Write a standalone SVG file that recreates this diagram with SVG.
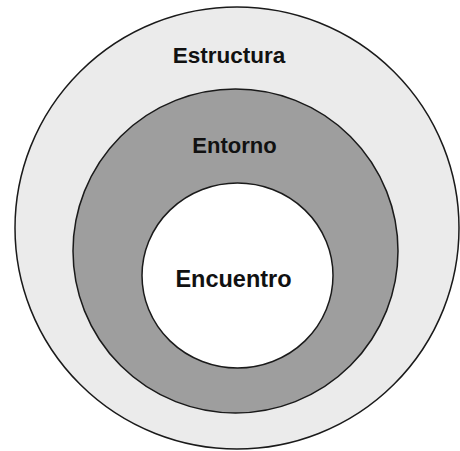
<svg xmlns="http://www.w3.org/2000/svg" width="460" height="451" viewBox="0 0 460 451">
<style>
.ring{stroke:#1a1a1a;stroke-width:1.5}
.lbl{font-family:"Liberation Sans",Arial,sans-serif;font-weight:bold;fill:#111;text-anchor:middle}
</style>
<rect width="460" height="451" fill="#fff"/>
<g id="estructura">
<ellipse class="ring" cx="237" cy="228" rx="222" ry="221" fill="#ebebeb"/>
<text class="lbl" x="229" y="63" font-size="22.5">Estructura</text>
</g>
<g id="entorno">
<ellipse class="ring" cx="235.5" cy="251" rx="162.5" ry="162" fill="#9e9e9e"/>
<text class="lbl" x="234.5" y="153" font-size="22">Entorno</text>
</g>
<g id="encuentro">
<ellipse class="ring" cx="237.5" cy="275.5" rx="95.5" ry="92.5" fill="#fff"/>
<text class="lbl" x="233.5" y="287" font-size="23.5">Encuentro</text>
</g>
</svg>
